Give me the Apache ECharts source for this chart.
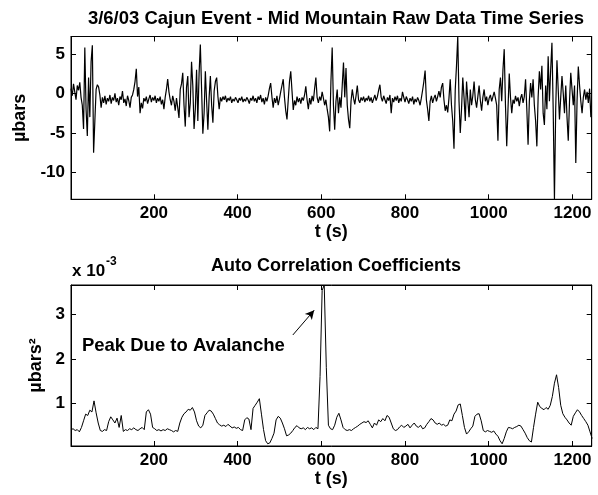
<!DOCTYPE html>
<html><head><meta charset="utf-8">
<script src="https://cdn.jsdelivr.net/npm/echarts@6/dist/echarts.min.js"></script>
<style>html,body{margin:0;padding:0;background:#fff}#c{width:598px;height:495px}</style>
</head><body><div id="c"></div><script>
// ---- data ----
const rawT0 = 2, rawDT = 3; // seconds
const rawValues = [
 0.6,-0.3,1.2,0.2,-0.8,1.0,0.4,1.4,-0.5,-1.5,
 -4.5,5.8,-2.0,-5.4,2.0,-3.0,4.0,6.1,-7.5,-3.5,
 0.5,1.1,0.8,-0.2,-1.8,-0.5,-1.2,-0.3,-1.4,-0.6,
 -1.0,-0.2,-1.3,-0.5,-0.9,0.0,-1.1,-0.6,-1.5,-0.4,
 -0.8,0.3,-1.2,-0.7,-1.6,-0.3,-0.9,-1.8,-0.5,-0.2,
 0.5,1.5,3.1,-0.4,0.8,-2.5,-1.2,-1.9,-0.6,-1.0,
 -0.4,-1.3,-0.7,-0.2,-1.1,-0.5,-0.9,-0.3,-1.2,-0.6,
 -1.0,-0.4,-1.4,-0.8,-2.0,-0.5,0.5,1.8,0.2,-0.8,
 -1.5,-0.3,-1.0,-2.2,-0.6,-1.8,-3.1,0.5,1.2,2.6,
 -1.5,-4.2,0.8,2.2,-3.0,-1.2,4.0,1.0,-4.5,-2.0,
 3.0,-3.5,2.5,6.2,0.5,-5.1,-2.5,2.8,-1.0,-4.6,
 -0.5,2.2,-1.5,-3.7,0.3,1.5,2.0,-0.4,-2.0,-0.5,
 -1.0,-0.4,-0.8,-0.3,-1.1,-0.6,-0.9,-0.4,-1.2,-0.7,
 -1.0,-0.5,-0.8,-1.2,-0.6,-0.9,-0.4,-1.1,-0.7,-1.0,
 -0.5,-0.8,-1.3,-0.6,-0.9,-0.3,-1.0,-0.6,-1.2,-0.4,
 -0.8,-0.2,-1.1,-0.6,-1.4,-0.5,-1.0,-0.3,0.6,1.3,
 -0.4,-1.8,-0.6,-1.2,-0.3,-1.5,-0.7,0.2,1.0,1.8,
 -0.5,-2.2,-3.3,-0.8,1.5,2.8,0.3,-2.1,-0.9,-1.5,
 -0.4,-1.1,-0.6,-1.3,-0.5,-0.9,-0.2,0.9,-0.8,-2.0,
 -0.6,-1.4,-0.3,-1.0,0.6,2.0,-0.5,-1.2,-0.4,-0.9,
 0.2,-0.6,-1.5,-0.8,-2.0,-3.0,-4.8,1.5,5.8,-1.5,
 -4.6,-1.0,0.5,-2.5,-0.5,-1.8,1.0,3.9,-0.5,3.2,
 -1.5,-3.3,-4.4,-1.0,0.5,-0.6,-1.4,-0.3,1.0,-0.8,
 -1.2,-0.5,-0.9,-0.4,-1.1,-0.6,-0.9,-0.3,-1.0,-0.5,
 -1.2,-0.7,-0.2,-0.9,-0.4,0.4,1.1,-0.5,-1.0,-0.3,
 -0.8,-1.3,-0.5,-0.9,-0.2,-2.5,-0.6,-1.1,-0.4,-0.9,
 -0.3,-1.2,-0.6,-1.0,0.2,-0.5,-1.1,-0.4,-0.8,-1.3,
 -0.6,-1.0,-0.4,-1.4,-0.7,-1.1,-0.5,-0.9,-1.5,-0.6,
 0.4,1.5,2.9,-0.8,-2.0,-3.5,-1.0,-0.3,-1.2,-0.6,
 -0.2,-1.0,-0.4,0.3,-0.5,0.8,1.3,-0.8,-2.2,-1.5,
 -2.4,-0.6,1.8,-1.5,-3.5,-7.0,0.5,3.5,7.2,-1.0,
 -5.0,-2.0,2.0,-0.5,-3.5,1.5,-0.8,-3.0,0.5,-1.5,
 -0.3,1.5,-0.8,-1.8,-0.4,1.0,-0.9,-2.2,-0.5,0.5,
 -1.0,-0.4,-1.5,-0.6,-0.2,-1.0,-0.4,0.2,-0.6,-1.5,
 -6.0,0.5,2.0,-1.0,3.0,5.6,-1.5,-6.7,-2.0,2.5,
 -0.5,-2.5,-0.8,-1.3,-0.3,-1.0,-0.5,-1.6,-0.6,-0.1,
 -1.2,-0.4,1.8,-2.0,-6.5,-1.0,1.3,-0.5,1.8,-1.5,
 -3.5,-6.7,-0.5,2.8,0.5,3.5,-2.5,-4.0,1.0,-2.0,
 4.7,-1.0,3.0,6.4,-2.0,-13.4,-2.0,4.2,0.5,-3.3,
 -0.5,2.2,0.0,-2.5,1.0,-3.0,-6.0,-1.0,2.6,0.5,
 -1.5,1.0,-8.8,-1.0,3.4,1.0,-1.0,-2.5,-0.5,0.5,
 -0.8,0.2,-1.2,0.6,-3.0
];
const acfT0 = 2, acfDT = 5; // seconds; values in units of 10^-3 µbars²
const acfValues = [
 0.40,0.42,0.38,0.40,0.35,0.45,0.60,0.75,0.72,0.84,
 0.80,1.05,0.78,0.55,0.38,0.36,0.40,0.38,0.58,0.69,
 0.62,0.55,0.66,0.45,0.72,0.36,0.40,0.38,0.42,0.40,
 0.44,0.40,0.38,0.42,0.45,0.40,0.80,0.85,0.75,0.45,
 0.42,0.38,0.40,0.37,0.40,0.38,0.42,0.40,0.38,0.35,
 0.38,0.36,0.55,0.68,0.76,0.80,0.86,0.84,0.90,0.80,
 0.60,0.48,0.44,0.50,0.72,0.78,0.84,0.82,0.75,0.65,
 0.55,0.51,0.48,0.50,0.47,0.52,0.48,0.44,0.46,0.43,
 0.45,0.40,0.38,0.62,0.67,0.64,0.40,0.88,0.95,1.02,
 1.10,0.75,0.40,0.15,0.08,0.10,0.20,0.32,0.62,0.70,
 0.66,0.55,0.42,0.26,0.28,0.32,0.38,0.45,0.49,0.44,
 0.42,0.44,0.40,0.45,0.42,0.44,0.40,0.45,0.42,1.60,
 3.55,3.67,1.80,0.50,0.42,0.40,0.50,0.68,0.77,0.62,
 0.45,0.40,0.38,0.40,0.38,0.42,0.45,0.48,0.52,0.55,
 0.58,0.56,0.60,0.52,0.44,0.55,0.50,0.62,0.58,0.65,
 0.60,0.72,0.68,0.55,0.42,0.38,0.40,0.46,0.50,0.45,
 0.48,0.52,0.44,0.50,0.55,0.48,0.45,0.50,0.42,0.44,
 0.52,0.58,0.65,0.62,0.55,0.52,0.55,0.50,0.52,0.48,
 0.50,0.62,0.60,0.75,0.82,0.96,0.98,0.72,0.45,0.30,
 0.35,0.42,0.48,0.70,0.75,0.76,0.60,0.38,0.35,0.38,
 0.36,0.34,0.37,0.30,0.25,0.15,0.08,0.20,0.35,0.45,
 0.44,0.42,0.45,0.47,0.50,0.48,0.40,0.32,0.22,0.15,
 0.12,0.45,0.75,1.02,0.92,0.88,0.85,0.90,0.86,0.95,
 1.15,1.45,1.64,1.35,0.95,0.76,0.68,0.62,0.55,0.50,
 0.70,0.78,0.85,0.80,0.72,0.65,0.58,0.50,0.35,0.20
];
const xTicks = [200,400,600,800,1000,1200];
const rawYTicks = [-10,-5,0,5];
const acfYTicks = [1,2,3];
const titleTop = '3/6/03 Cajun Event - Mid Mountain Raw Data Time Series';
const titleBottom = 'Auto Correlation Coefficients';
const annotationText = 'Peak Due to Avalanche';
const annotationAt = [28, 2.27];
const arrowFrom = [532, 2.54], arrowTo = [583, 3.1];

// ---- chart ----
const FONT = "'Liberation Sans', Arial, sans-serif";
const chart = echarts.init(document.getElementById('c'), null, {renderer:'canvas'});
const rawData = rawValues.map((v,i)=>[rawT0+i*rawDT, v]);
const acfData = acfValues.map((v,i)=>[acfT0+i*acfDT, v]);
const XMIN = 2, XMAX = 1246;
const axLine = {show:true, onZero:false, lineStyle:{color:'#000', width:1}};
const lbl = v => String(v);
function xAx(grid, main){
  return {type:'value', gridIndex:grid, min:XMIN, max:XMAX, position: main?'bottom':'top',
    axisLine:axLine, splitLine:{show:false},
    axisTick:{show:true, inside:true, length:5, lineStyle:{color:'#000'}, customValues:xTicks},
    axisLabel:{show:main, customValues:xTicks, formatter:lbl, color:'#000', fontSize:17, fontWeight:'bold', fontFamily:FONT, margin:6},
    name: main?'t (s)':'', nameLocation:'middle', nameGap:24,
    nameTextStyle:{color:'#000', fontSize:18, fontWeight:'bold', fontFamily:FONT}};
}
function yAx(grid, main, min, max, ticks, name, gap){
  return {type:'value', gridIndex:grid, min:min, max:max, position: main?'left':'right',
    axisLine:axLine, splitLine:{show:false},
    axisTick:{show:true, inside:true, length:5, lineStyle:{color:'#000'}, customValues:ticks},
    axisLabel:{show:main, customValues:ticks, formatter:lbl, color:'#000', fontSize:17, fontWeight:'bold', fontFamily:FONT, margin:6},
    name: main?name:'', nameLocation:'middle', nameRotate:90, nameGap:gap,
    nameTextStyle:{color:'#000', fontSize:18, fontWeight:'bold', fontFamily:FONT}};
}
chart.setOption({
  animation:false,
  backgroundColor:'#fff',
  title:[
    {text:titleTop, left:331, top:4, textAlign:'center', textStyle:{color:'#000', fontSize:18.5, fontWeight:'bold', fontFamily:FONT}},
    {text:titleBottom, left:331, top:252, textAlign:'center', textStyle:{color:'#000', fontSize:18, fontWeight:'bold', fontFamily:FONT}}
  ],
  grid:[
    {left:71, top:36.5, width:520.7, height:162.8, show:true, borderColor:'#000', borderWidth:1, backgroundColor:'transparent'},
    {left:71, top:285, width:520.7, height:161, show:true, borderColor:'#000', borderWidth:1, backgroundColor:'transparent'}
  ],
  xAxis:[xAx(0,true), xAx(0,false), xAx(1,true), xAx(1,false)],
  yAxis:[
    yAx(0,true,-13.4,7.2,rawYTicks,'µbars',40), yAx(0,false,-13.4,7.2,rawYTicks,'',0),
    yAx(1,true,0.03,3.67,acfYTicks,'µbars²',22), yAx(1,false,0.03,3.67,acfYTicks,'',0)
  ],
  series:[
    {type:'line', xAxisIndex:0, yAxisIndex:0, data:rawData, showSymbol:false, symbol:'none',
     lineStyle:{color:'#000', width:1.2}, clip:true},
    {type:'line', xAxisIndex:1, yAxisIndex:1, data:[], symbol:'none'},
    {type:'line', xAxisIndex:2, yAxisIndex:2, data:acfData, showSymbol:false, symbol:'none',
     lineStyle:{color:'#000', width:1}, clip:true,
     markLine:{silent:true, symbol:['none','arrow'], symbolSize:[7,9], label:{show:false},
       lineStyle:{color:'#000', width:1, type:'solid'},
       data:[[{coord:arrowFrom},{coord:arrowTo}]]}},
    {type:'line', xAxisIndex:3, yAxisIndex:3, data:[], symbol:'none'}
  ]
});
const p = chart.convertToPixel({xAxisIndex:2, yAxisIndex:2}, annotationAt);
const g0 = chart.convertToPixel({xAxisIndex:2, yAxisIndex:2}, [XMIN, 3.67]);
chart.setOption({graphic:[
  {type:'text', left:p[0], top:p[1]-11, style:{text:annotationText, fill:'#000', font:"bold 18.5px "+FONT}},
  {type:'text', left:g0[0]+1, top:g0[1]-22, style:{text:'x 10', fill:'#000', font:"bold 17px "+FONT}},
  {type:'text', left:g0[0]+35, top:g0[1]-29, style:{text:'-3', fill:'#000', font:"bold 12px "+FONT}}
]});
</script></body></html>
